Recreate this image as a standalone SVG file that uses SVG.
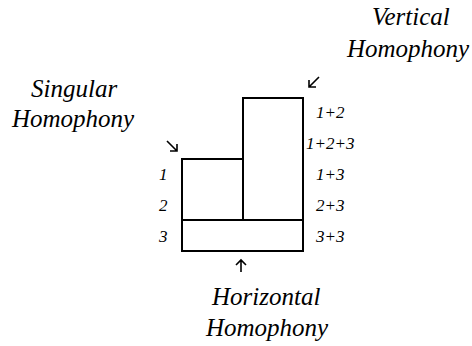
<svg xmlns="http://www.w3.org/2000/svg" width="472" height="346" viewBox="0 0 472 346">
<rect width="472" height="346" fill="#fff"/>
<g id="blocks" fill="#fff" stroke="#000" stroke-width="2">
<rect x="182" y="159" width="61" height="61"/>
<rect x="243" y="98" width="60" height="122"/>
<rect x="182" y="220" width="121" height="31"/>
</g>
<g id="connectors" fill="none" stroke="#000" stroke-width="1.6">
<path d="M167,141 L177,151 M177,144 L177,151 L170,151"/>
<path d="M319,77 L309,87 M309,80 L309,87 L316,87"/>
<path d="M241,272 L241,260 M236,265 L241,260 L246,265"/>
</g>
<g id="vertical-label">
<text x="372" y="25" font-family="Times New Roman, Liberation Serif, serif" font-size="25" font-style="italic">Vertical</text>
<text x="347" y="57" font-family="Times New Roman, Liberation Serif, serif" font-size="25" font-style="italic">Homophony</text>
</g>
<g id="singular-label">
<text x="31" y="97" font-family="Times New Roman, Liberation Serif, serif" font-size="25" font-style="italic">Singular</text>
<text x="12" y="127" font-family="Times New Roman, Liberation Serif, serif" font-size="25" font-style="italic">Homophony</text>
</g>
<g id="horizontal-label">
<text x="212" y="305" font-family="Times New Roman, Liberation Serif, serif" font-size="25" font-style="italic">Horizontal</text>
<text x="206" y="336" font-family="Times New Roman, Liberation Serif, serif" font-size="25" font-style="italic">Homophony</text>
</g>
<g id="left-numbers">
<text x="159" y="180" font-family="Times New Roman, Liberation Serif, serif" font-size="17" font-style="italic">1</text>
<text x="159" y="211" font-family="Times New Roman, Liberation Serif, serif" font-size="17" font-style="italic">2</text>
<text x="159" y="242" font-family="Times New Roman, Liberation Serif, serif" font-size="17" font-style="italic">3</text>
</g>
<g id="right-numbers">
<text x="316" y="118" font-family="Times New Roman, Liberation Serif, serif" font-size="17" font-style="italic">1+2</text>
<text x="306" y="149" font-family="Times New Roman, Liberation Serif, serif" font-size="17" font-style="italic">1+2+3</text>
<text x="316" y="180" font-family="Times New Roman, Liberation Serif, serif" font-size="17" font-style="italic">1+3</text>
<text x="316" y="211" font-family="Times New Roman, Liberation Serif, serif" font-size="17" font-style="italic">2+3</text>
<text x="316" y="242" font-family="Times New Roman, Liberation Serif, serif" font-size="17" font-style="italic">3+3</text>
</g>
</svg>
